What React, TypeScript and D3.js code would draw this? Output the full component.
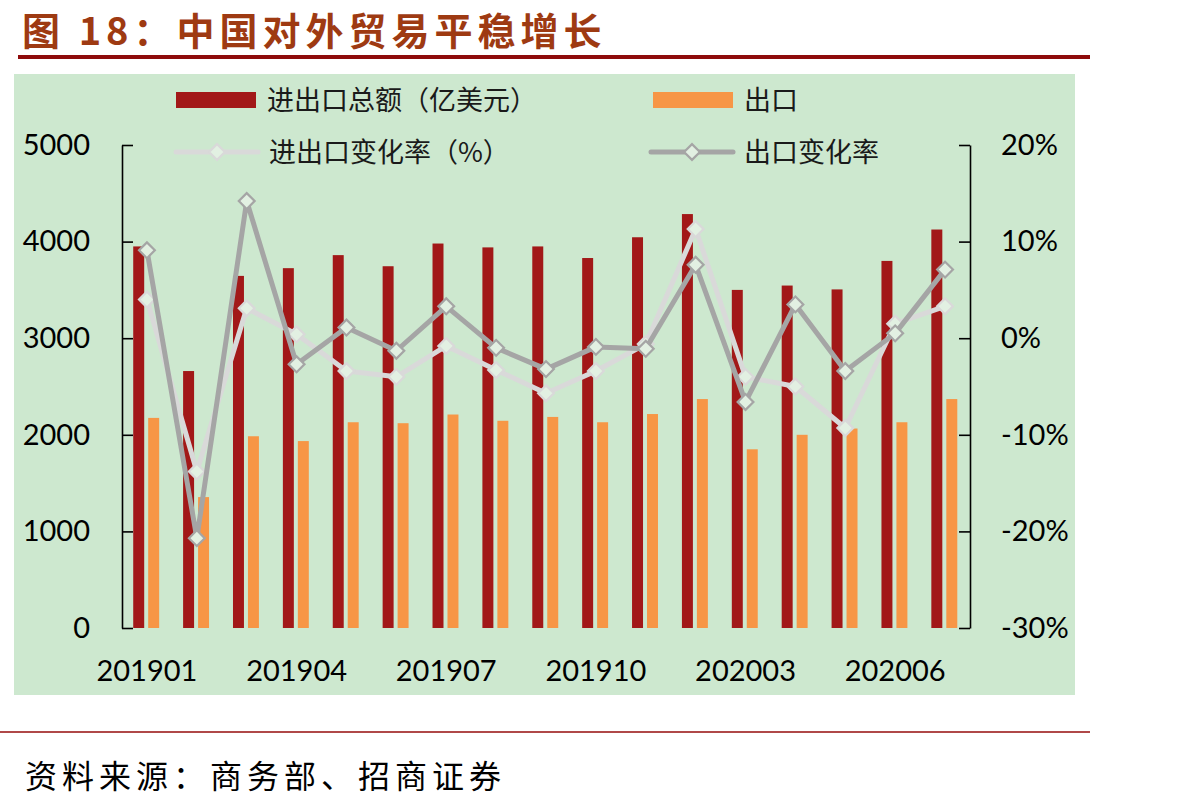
import React, { useEffect, useRef } from 'react';
import * as d3 from 'd3';

// 月份（2020年1、2月合并未列出）
const months = [
  '201901', '201902', '201903', '201904', '201905', '201906', '201907', '201908', '201909',
  '201910', '201911', '201912', '202003', '202004', '202005', '202006', '202007',
];
const xTickLabels = ['201901', '201904', '201907', '201910', '202003', '202006'];

// 亿美元
const tradeTotal = [3950, 2660, 3645, 3725, 3860, 3745, 3980, 3940, 3950, 3830, 4045, 4285, 3500, 3545, 3505, 3800, 4125];
const exportValue = [2175, 1355, 1985, 1935, 2130, 2120, 2210, 2145, 2185, 2130, 2215, 2370, 1850, 2000, 2065, 2130, 2370];

// %
const tradeChange = [4.0, -13.8, 3.1, 0.4, -3.4, -4.0, -0.8, -3.3, -5.7, -3.4, -0.6, 11.3, -4.0, -5.0, -9.3, 1.5, 3.3];
const exportChange = [9.1, -20.7, 14.2, -2.7, 1.1, -1.3, 3.3, -1.0, -3.2, -0.9, -1.1, 7.6, -6.6, 3.5, -3.4, 0.5, 7.1];

const leftTicks = [0, 1000, 2000, 3000, 4000, 5000];
const rightTicks = [-30, -20, -10, 0, 10, 20];

const W = 1185;
const H = 807;

const colTotal = '#A21818';
const colExport = '#F79646';
const colTradeLine = '#D9D9D9';
const colExportLine = '#A5A5A5';
const markerFill = '#E2F0E2';
const cjk = '"Noto Sans CJK SC", sans-serif';
const num = 'Lato, "Open Sans", sans-serif';

function App() {
  const ref = useRef<SVGSVGElement>(null);

  useEffect(() => {
    const svg = d3.select(ref.current);
    svg.selectAll('*').remove();

    const plot = { left: 122, right: 970, top: 145, bottom: 628 };

    // 标题
    svg.append('text')
      .attr('x', 22).attr('y', 45)
      .attr('font-family', cjk).attr('font-weight', 700)
      .attr('font-size', 38).attr('letter-spacing', 5)
      .attr('fill', '#9E3A12')
      .text('图 18：中国对外贸易平稳增长');
    svg.append('rect')
      .attr('x', 18).attr('y', 55).attr('width', 1072).attr('height', 4)
      .attr('fill', '#8E0B0B');

    // 绿色背景
    svg.append('rect')
      .attr('x', 14).attr('y', 74).attr('width', 1061).attr('height', 621)
      .attr('fill', '#CDE8CF');

    const x = d3.scaleBand().domain(months).range([plot.left, plot.right]).paddingInner(0);
    const xSub = d3.scaleBand()
      .domain(['total', 'export'])
      .range([x.bandwidth() * 0.225, x.bandwidth() * 0.745])
      .paddingInner(0.267);
    const yLeft = d3.scaleLinear().domain([0, 5000]).range([plot.bottom, plot.top]);
    const yRight = d3.scaleLinear().domain([-30, 20]).range([plot.bottom, plot.top]);

    // 柱子
    const bars = svg.append('g');
    bars.selectAll('.bar-total')
      .data(months)
      .join('rect')
      .attr('class', 'bar-total')
      .attr('x', (d) => x(d)! + xSub('total')!)
      .attr('width', xSub.bandwidth())
      .attr('y', (d, i) => yLeft(tradeTotal[i]))
      .attr('height', (d, i) => yLeft(0) - yLeft(tradeTotal[i]))
      .attr('fill', colTotal);
    bars.selectAll('.bar-export')
      .data(months)
      .join('rect')
      .attr('class', 'bar-export')
      .attr('x', (d) => x(d)! + xSub('export')!)
      .attr('width', xSub.bandwidth())
      .attr('y', (d, i) => yLeft(exportValue[i]))
      .attr('height', (d, i) => yLeft(0) - yLeft(exportValue[i]))
      .attr('fill', colExport);

    // 坐标轴
    const axisL = svg.append('g')
      .attr('transform', `translate(${plot.left},0)`)
      .call(d3.axisLeft(yLeft).tickValues(leftTicks).tickSizeInner(-11).tickSizeOuter(0).tickPadding(32)
        .tickFormat((d) => String(d)));
    const axisR = svg.append('g')
      .attr('transform', `translate(${plot.right},0)`)
      .call(d3.axisRight(yRight).tickValues(rightTicks).tickSizeInner(-11).tickSizeOuter(0).tickPadding(31)
        .tickFormat((d) => `${d}%`));
    [axisL, axisR].forEach((g) => {
      g.select('.domain').attr('stroke', '#000').attr('stroke-width', 1.6);
      g.selectAll('.tick line').attr('stroke', '#000').attr('stroke-width', 1.6);
      g.selectAll('.tick text')
        .attr('font-family', num).attr('font-size', 29).attr('fill', '#000');
    });

    // x轴标签
    svg.append('g')
      .selectAll('text')
      .data(xTickLabels)
      .join('text')
      .attr('x', (d) => x(d)! + x.bandwidth() / 2)
      .attr('y', 681)
      .attr('text-anchor', 'middle')
      .attr('font-family', num).attr('font-size', 29).attr('fill', '#000')
      .text((d) => d);

    // 折线
    const diamond = d3.symbol().type(d3.symbolSquare).size(125);
    const drawLine = (vals: number[], color: string) => {
      const g = svg.append('g');
      const ln = d3.line<number>()
        .x((d, i) => x(months[i])! + x.bandwidth() / 2)
        .y((d) => yRight(d));
      g.append('path')
        .datum(vals)
        .attr('d', ln)
        .attr('fill', 'none')
        .attr('stroke', color)
        .attr('stroke-width', 5)
        .attr('stroke-linejoin', 'round');
      g.selectAll('path.mk')
        .data(vals)
        .join('path')
        .attr('class', 'mk')
        .attr('d', diamond)
        .attr('transform', (d, i) => `translate(${x(months[i])! + x.bandwidth() / 2},${yRight(d)}) rotate(45)`)
        .attr('fill', markerFill)
        .attr('stroke', color)
        .attr('stroke-width', 2.2);
    };
    drawLine(tradeChange, colTradeLine);
    drawLine(exportChange, colExportLine);

    // 图例
    const legend = svg.append('g');
    const items = [
      { label: '进出口总额（亿美元）', kind: 'bar', color: colTotal, x: 176, y: 100 },
      { label: '出口', kind: 'bar', color: colExport, x: 653, y: 100 },
      { label: '进出口变化率（%）', kind: 'line', color: colTradeLine, x: 176, y: 152 },
      { label: '出口变化率', kind: 'line', color: colExportLine, x: 651, y: 152 },
    ];
    items.forEach((it) => {
      if (it.kind === 'bar') {
        legend.append('rect')
          .attr('x', it.x).attr('y', it.y - 8).attr('width', 80).attr('height', 16)
          .attr('fill', it.color);
      } else {
        legend.append('line')
          .attr('x1', it.x).attr('x2', it.x + 82).attr('y1', it.y).attr('y2', it.y)
          .attr('stroke', it.color).attr('stroke-width', 5).attr('stroke-linecap', 'round');
        legend.append('path')
          .attr('d', diamond)
          .attr('transform', `translate(${it.x + 41},${it.y}) rotate(45)`)
          .attr('fill', markerFill).attr('stroke', it.color).attr('stroke-width', 2.2);
      }
      legend.append('text')
        .attr('x', it.kind === 'bar' ? it.x + 91 : it.x + 93)
        .attr('y', it.y)
        .attr('dy', '0.36em')
        .attr('font-family', cjk).attr('font-size', 27).attr('fill', '#1a1a1a')
        .text(it.label);
    });

    // 资料来源
    svg.append('rect')
      .attr('x', 0).attr('y', 731).attr('width', 1090).attr('height', 2)
      .attr('fill', '#B04848');
    svg.append('text')
      .attr('x', 25).attr('y', 788)
      .attr('font-family', cjk).attr('font-size', 32).attr('letter-spacing', 5)
      .attr('fill', '#000')
      .text('资料来源：商务部、招商证券');
  }, []);

  return (
    <div style={{ position: 'absolute', left: 0, top: 0 }}>
      <svg ref={ref} width={W} height={H} style={{ display: 'block', background: '#fff' }} />
    </div>
  );
}

export default App;
